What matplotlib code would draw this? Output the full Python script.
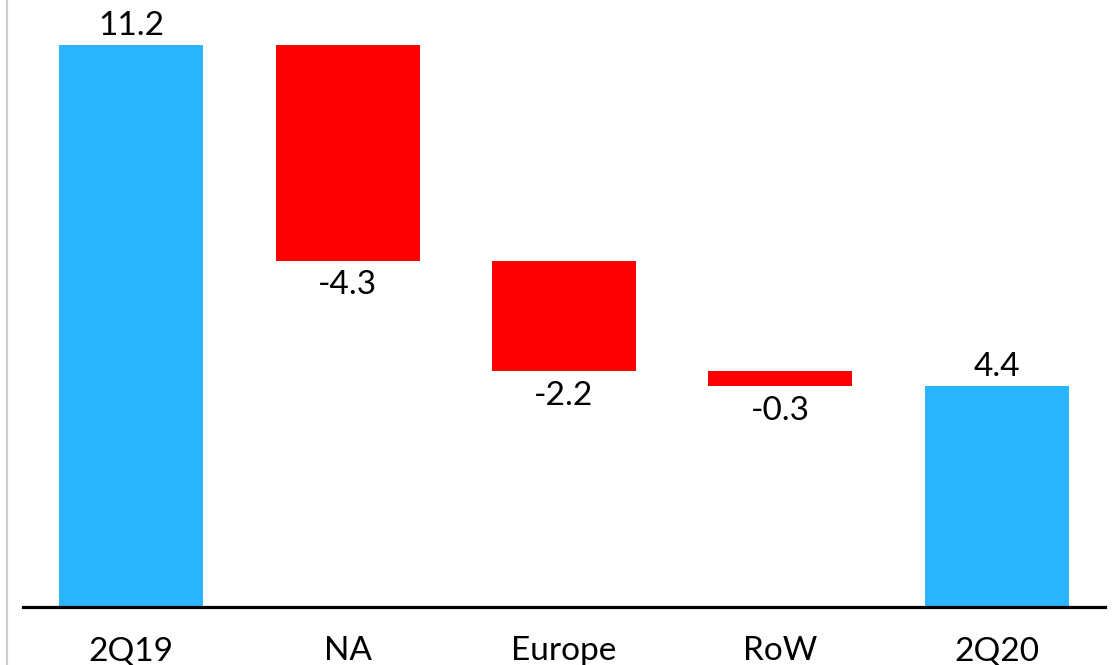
import matplotlib
matplotlib.use("Agg")
import matplotlib.pyplot as plt
from matplotlib.lines import Line2D
import numpy as np

categories = ["2Q19", "NA", "Europe", "RoW", "2Q20"]
changes = [11.2, -4.3, -2.2, -0.3, 4.4]
is_total = [True, False, False, False, True]

BLUE = "#2AB5FF"
RED = "#FF0000"

plt.rcParams["font.family"] = ["Lato", "DejaVu Sans"]

W, H = 1119, 665
fig = plt.figure(figsize=(W / 100, H / 100), dpi=100)

# thin grey frame line on the left
fig.add_artist(Line2D([6.5 / W, 6.5 / W], [0, 1], transform=fig.transFigure,
                      color="#cfcfcf", lw=1.6))

base_px = 58  # baseline height from bottom, px
ax = fig.add_axes([23 / W, base_px / H, 1082 / W, 1 - base_px / H])
scale = 50.18  # px per unit
ax.set_ylim(0, (H - base_px) / scale)
ax.set_xlim(-0.5, len(categories) - 0.5)

x = np.arange(len(categories))
running = 0.0
bottoms, heights, colors = [], [], []
for v, tot in zip(changes, is_total):
    if tot:
        bottoms.append(0.0)
        heights.append(v)
        colors.append(BLUE)
        running = v
    else:
        bottoms.append(running + v)
        heights.append(-v)
        colors.append(RED)
        running = running + v

ax.bar(x, heights, bottom=bottoms, width=0.666, color=colors, edgecolor="none")

fs = 24
for xi, v, b, h, tot in zip(x, changes, bottoms, heights, is_total):
    if tot:
        ax.annotate(f"{v:.1f}", (xi, b + h), xytext=(0, 3), textcoords="offset points",
                    ha="center", va="bottom", fontsize=fs, color="black")
    else:
        ax.annotate(f"{v:.1f}", (xi, b), xytext=(0, -7), textcoords="offset points",
                    ha="center", va="top", fontsize=fs, color="black")

for s in ["top", "right", "left"]:
    ax.spines[s].set_visible(False)
ax.spines["bottom"].set_linewidth(2.3)
ax.spines["bottom"].set_color("black")
ax.set_yticks([])
ax.set_xticks(x)
ax.set_xticklabels(categories, fontsize=fs)
ax.tick_params(axis="x", length=0, pad=21)

fig.savefig("out.png", dpi=100, facecolor="white")
